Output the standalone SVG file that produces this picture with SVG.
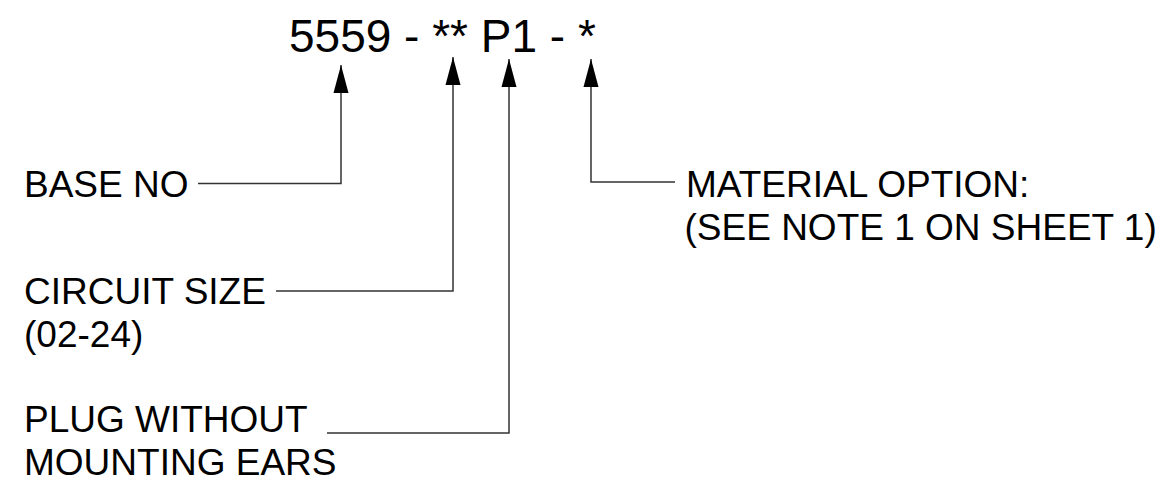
<svg xmlns="http://www.w3.org/2000/svg" width="1162" height="491" viewBox="0 0 1162 491">
<style>
text{font-family:"Liberation Sans",Arial,sans-serif;fill:#000}
.lbl{font-size:37px}
.title{font-size:46px}
.ln{fill:none;stroke:#333;stroke-width:1.5}
</style>
<defs>
<marker id="ah" markerUnits="userSpaceOnUse" markerWidth="28" markerHeight="16" refX="28" refY="8" orient="auto-start-reverse" viewBox="0 0 28 16">
<path d="M28,8 L0,0.5 L0,15.5 Z" fill="#000"/>
</marker>
</defs>
<rect width="1162" height="491" fill="#fff"/>
<g id="title"><text class="title" x="289" y="52">5559 - ** P1 - *</text></g>
<g id="connectors">
<path class="ln" d="M341,65 V183.5 H198" marker-start="url(#ah)"/>
<path class="ln" d="M453,57 V291 H276" marker-start="url(#ah)"/>
<path class="ln" d="M509,59 V433 H327" marker-start="url(#ah)"/>
<path class="ln" d="M591,59 V182 H675" marker-start="url(#ah)"/>
</g>
<g id="base-no"><text class="lbl" x="24" y="197">BASE NO</text></g>
<g id="circuit-size"><text class="lbl" x="24" y="304">CIRCUIT SIZE</text><text class="lbl" x="24" y="347">(02-24)</text></g>
<g id="plug"><text class="lbl" x="24" y="432">PLUG WITHOUT</text><text class="lbl" x="24" y="475">MOUNTING EARS</text></g>
<g id="material"><text class="lbl" x="686" y="197">MATERIAL OPTION:</text><text class="lbl" x="684.5" y="240">(SEE NOTE 1 ON SHEET 1)</text></g>
</svg>
